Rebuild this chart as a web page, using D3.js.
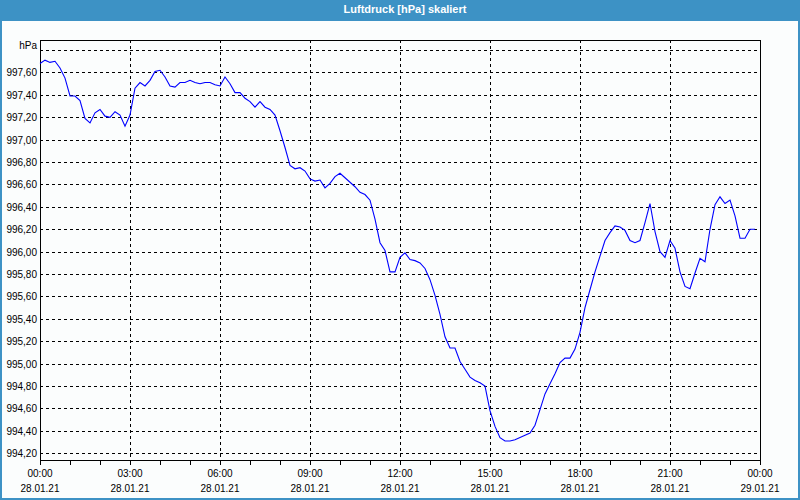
<!doctype html>
<html>
<head>
	<meta charset='utf-8'/>
	<script src="https://d3js.org/d3.v7.min.js"></script>
	<title>Luftdruck</title>
	<style>
		body {
			margin: 0;
			background: #ffffff;
		}
		svg text {
			font-family: "Liberation Sans", Arial, sans-serif;
		}
	</style>
</head>
<body>
	<div id="chart"></div>
	<script>
		// Luftdruck, alle 10 Minuten ab 28.01.21 00:00
		var startTime = new Date(2021, 0, 28, 0, 0);
		var endTime = new Date(2021, 0, 29, 0, 0);
		var stepMinutes = 10;

		var pressure = [
			997.68, 997.71, 997.69, 997.70, 997.64, 997.55, 997.39, 997.39, 997.35, 997.19,
			997.15, 997.24, 997.27, 997.21, 997.20, 997.25, 997.22, 997.12, 997.22, 997.46,
			997.51, 997.48, 997.53, 997.61, 997.62, 997.56, 997.48, 997.47, 997.51, 997.51,
			997.53, 997.51, 997.50, 997.51, 997.51, 997.49, 997.48, 997.56, 997.50, 997.42,
			997.42, 997.37, 997.34, 997.29, 997.34, 997.29, 997.27, 997.22, 997.08, 996.93,
			996.77, 996.74, 996.75, 996.72, 996.65, 996.63, 996.64, 996.57, 996.61, 996.67,
			996.70, 996.66, 996.62, 996.58, 996.53, 996.51, 996.46, 996.29, 996.08, 996.01,
			995.82, 995.82, 995.95, 995.99, 995.93, 995.92, 995.90, 995.85, 995.75, 995.61,
			995.44, 995.24, 995.14, 995.14, 995.02, 994.95, 994.88, 994.85, 994.83, 994.80,
			994.58, 994.44, 994.34, 994.31, 994.31, 994.32, 994.34, 994.36, 994.38, 994.45,
			994.59, 994.73, 994.82, 994.91, 995.01, 995.05, 995.05, 995.13, 995.28, 995.50,
			995.66, 995.82, 995.96, 996.10, 996.17, 996.23, 996.22, 996.19, 996.10, 996.08,
			996.10, 996.26, 996.43, 996.18, 996.00, 995.95, 996.10, 996.03, 995.82, 995.69,
			995.67, 995.81, 995.94, 995.91, 996.20, 996.42, 996.49, 996.43, 996.46, 996.32,
			996.12, 996.12, 996.20, 996.20
		];

		var yTicks = [994.2, 994.4, 994.6, 994.8, 995.0, 995.2, 995.4, 995.6, 995.8,
			996.0, 996.2, 996.4, 996.6, 996.8, 997.0, 997.2, 997.4, 997.6, 997.8];
		var yMin = 994.14, yMax = 997.89;

		var title = "Luftdruck [hPa] skaliert";
		var unit = "hPa";

		var width = 800,
			height = 500;

		var plotLeft = 40, plotRight = 760, plotTop = 40, plotBottom = 460;

		var svg = d3.select("#chart").append("svg")
			.attr("width", width)
			.attr("height", height);

		// Rahmen + Titelleiste
		svg.append("rect")
			.attr("x", 0).attr("y", 0)
			.attr("width", width).attr("height", height)
			.attr("fill", "#3d92c5");
		svg.append("rect")
			.attr("x", 2).attr("y", 21)
			.attr("width", width - 4).attr("height", height - 23)
			.attr("fill", "#fbfdfd");
		svg.append("text")
			.attr("x", width / 2 + 5)
			.attr("y", 13)
			.attr("text-anchor", "middle")
			.attr("fill", "#ffffff")
			.style("font-size", "11px")
			.style("font-weight", "bold")
			.text(title);

		var x = d3.scaleTime()
			.domain([startTime, endTime])
			.range([plotLeft, plotRight]);

		var y = d3.scaleLinear()
			.domain([yMin, yMax])
			.range([plotBottom, plotTop]);

		var data = pressure.map(function(v, i) {
			return {t: d3.timeMinute.offset(startTime, i * stepMinutes), v: v};
		});

		var fmt = d3.format(".2f");

		// horizontale Gitterlinien
		svg.selectAll(".hgrid")
			.data(yTicks)
			.enter()
			.append("line")
			.attr("class", "hgrid")
			.attr("x1", plotLeft)
			.attr("x2", plotRight - 3)
			.attr("y1", function(d) { return Math.round(y(d)) + 0.5; })
			.attr("y2", function(d) { return Math.round(y(d)) + 0.5; })
			.attr("stroke", "#000")
			.attr("stroke-dasharray", "3,3");

		// y Beschriftung
		svg.selectAll(".ylab")
			.data(yTicks.slice(0, yTicks.length - 1))
			.enter()
			.append("text")
			.attr("class", "ylab")
			.attr("x", plotLeft - 3)
			.attr("y", function(d) { return Math.round(y(d)) + 4; })
			.attr("text-anchor", "end")
			.style("font-size", "10px")
			.attr("fill", "#000")
			.text(function(d) { return fmt(d).replace(".", ","); });

		svg.append("text")
			.attr("x", plotLeft - 3)
			.attr("y", 49)
			.attr("text-anchor", "end")
			.style("font-size", "10px")
			.text(unit);

		// vertikale Gitterlinien
		var majorTicks = x.ticks(d3.timeHour.every(3));
		svg.selectAll(".vgrid")
			.data(majorTicks.slice(1, majorTicks.length - 1))
			.enter()
			.append("line")
			.attr("class", "vgrid")
			.attr("x1", function(d) { return Math.round(x(d)) + 0.5; })
			.attr("x2", function(d) { return Math.round(x(d)) + 0.5; })
			.attr("y1", plotTop)
			.attr("y2", plotBottom)
			.attr("stroke", "#000")
			.attr("stroke-dasharray", "3,3");

		// x Achse
		var xAxis = d3.axisBottom(x)
			.ticks(d3.timeHour.every(1))
			.tickSize(4)
			.tickFormat("");
		svg.append("g")
			.attr("transform", "translate(0," + (plotBottom + 0.5) + ")")
			.call(xAxis)
			.call(function(g) { g.select(".domain").remove(); })
			.selectAll("line").attr("shape-rendering", "crispEdges");

		var timeFmt = d3.timeFormat("%H:%M"),
			dateFmt = d3.timeFormat("%d.%m.%y");

		svg.selectAll(".xtime")
			.data(majorTicks)
			.enter()
			.append("text")
			.attr("class", "xtime")
			.attr("x", function(d) { return x(d); })
			.attr("y", 477)
			.attr("text-anchor", "middle")
			.style("font-size", "10px")
			.text(timeFmt);

		svg.selectAll(".xdate")
			.data(majorTicks)
			.enter()
			.append("text")
			.attr("class", "xdate")
			.attr("x", function(d) { return x(d); })
			.attr("y", 492)
			.attr("text-anchor", "middle")
			.style("font-size", "10px")
			.text(dateFmt);

		// Plotrahmen
		svg.append("rect")
			.attr("x", plotLeft + 0.5)
			.attr("y", plotTop + 0.5)
			.attr("width", plotRight - plotLeft)
			.attr("height", plotBottom - plotTop)
			.attr("fill", "none")
			.attr("stroke", "#000");

		// Kurve
		var line = d3.line()
			.x(function(d) { return x(d.t); })
			.y(function(d) { return y(d.v); });

		svg.append("path")
			.datum(data)
			.attr("d", line)
			.attr("fill", "none")
			.attr("stroke", "#0000ff")
			.attr("stroke-width", 1.1);
	</script>
</body>
</html>
